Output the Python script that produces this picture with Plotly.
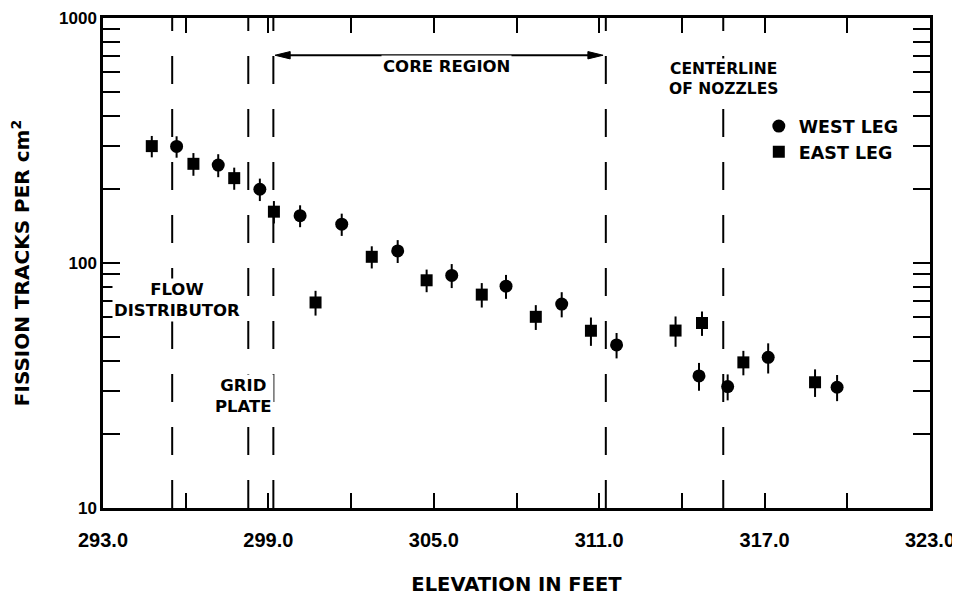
import plotly.graph_objects as go

# ---- data ----
west_x = [295.67, 297.18, 298.69, 300.15, 301.66, 303.69, 305.65, 307.62, 309.64, 311.63, 314.62, 315.66, 317.13, 319.63]
west_y = [299, 251, 200, 156, 144, 112, 89, 80.4, 68, 46.3, 34.6, 31.3, 41.2, 31.1]
west_err = [30, 27, 21, 16, 15, 12, 10, 9, 8, 5.5, 4.5, 3.8, 5.8, 3.8]

east_x = [294.77, 296.28, 297.76, 299.20, 300.71, 302.75, 304.74, 306.74, 308.70, 310.70, 313.77, 314.73, 316.23, 318.83]
east_y = [300, 254, 222, 162, 69, 106, 85, 74.3, 60.3, 52.9, 53, 56.9, 39.3, 32.6]
east_err = [30, 27, 23, 17, 8, 11, 9, 8.5, 7, 7, 7.5, 6.5, 4.5, 4.2]

x_tickvals = [293, 296, 299, 302, 305, 308, 311, 314, 317, 320, 323]
x_ticktext = ["293.0", "", "299.0", "", "305.0", "", "311.0", "", "317.0", "", "323.0"]
y_tickvals = [10, 20, 30, 40, 50, 60, 70, 80, 90, 100, 200, 300, 400, 500, 600, 700, 800, 900, 1000]
y_ticktext = ["10", "", "", "", "", "", "", "", "", "100", "", "", "", "", "", "", "", "", "1000"]

# reference lines (elevation, ft)
flow_distributor_x = 295.51
grid_plate_x = 298.27
core_start_x = 299.18
core_end_x = 311.24
nozzles_x = 315.5

TXT = "DejaVu Sans"
NUM = "Liberation Sans"

fig = go.Figure()
fig.add_trace(go.Scatter(
    x=west_x, y=west_y, mode="markers", name="WEST LEG",
    marker=dict(symbol="circle", size=13, color="black"),
    error_y=dict(type="data", array=west_err, visible=True, thickness=2, width=0, color="black"),
))
fig.add_trace(go.Scatter(
    x=east_x, y=east_y, mode="markers", name="EAST LEG",
    marker=dict(symbol="square", size=12, color="black"),
    error_y=dict(type="data", array=east_err, visible=True, thickness=2, width=0, color="black"),
))

shapes = []
for xv in [flow_distributor_x, grid_plate_x, core_start_x, core_end_x, nozzles_x]:
    shapes.append(dict(type="line", xref="x", yref="paper", x0=xv, x1=xv, y0=0, y1=1,
                       line=dict(color="black", width=2, dash="28px,25px"), layer="below"))

# "CORE REGION" double arrow (paper y for the row, arrowheads as filled triangles)
arrow_y = 0.924
head_len = 0.55   # ft
head_half = 0.0075  # paper
left_tip = core_start_x + 0.06
right_tip = core_end_x - 0.1
shapes.append(dict(type="line", xref="x", yref="paper", x0=left_tip + 0.3, x1=right_tip - 0.3,
                   y0=arrow_y, y1=arrow_y, line=dict(color="black", width=2)))
shapes.append(dict(type="path", xref="x", yref="paper",
                   path=f"M {left_tip},{arrow_y} L {left_tip + head_len},{arrow_y + head_half} "
                        f"L {left_tip + head_len},{arrow_y - head_half} Z",
                   fillcolor="black", line=dict(color="black", width=1)))
shapes.append(dict(type="path", xref="x", yref="paper",
                   path=f"M {right_tip},{arrow_y} L {right_tip - head_len},{arrow_y + head_half} "
                        f"L {right_tip - head_len},{arrow_y - head_half} Z",
                   fillcolor="black", line=dict(color="black", width=1)))

def label(text, x, y, size=16.5):
    return dict(x=x, y=y, xref="x", yref="y", text=text, showarrow=False,
                bgcolor="white", borderpad=1, align="center",
                font=dict(family=TXT, size=size, color="black", weight="bold"))

ann = [
    dict(x=305.47, y=arrow_y, xref="x", yref="paper", text="CORE REGION", showarrow=False,
         bgcolor="white", borderpad=1,
         font=dict(family=TXT, size=16.5, color="black", weight="bold")),
    label("CENTERLINE<br>OF NOZZLES", nozzles_x, 2.752, 15.5),
    label("FLOW<br>DISTRIBUTOR", 295.67, 1.8496),
    label("GRID<br>PLATE", 298.11, 1.4553),
]

# The page body has an 8px default margin, so the figure is sized to fit the
# 960x596 window from that offset.
fig.update_layout(
    width=952, height=588,
    margin=dict(l=95, r=30, t=10, b=88),
    paper_bgcolor="white", plot_bgcolor="white",
    font=dict(family=TXT, color="black", weight="bold"),
    showlegend=True,
    legend=dict(x=0.793, y=0.816, xanchor="left", yanchor="top",
                font=dict(family=TXT, size=17.5, color="black", weight="bold"),
                bgcolor="rgba(0,0,0,0)", itemsizing="trace", tracegroupgap=0),
    annotations=ann,
    shapes=shapes,
)
fig.update_xaxes(
    range=[293, 323], tickvals=x_tickvals, ticktext=x_ticktext,
    ticks="inside", ticklen=15, tickwidth=1.5, tickcolor="black",
    showline=True, linewidth=2.5, linecolor="black", mirror="ticks",
    showgrid=False, zeroline=False, ticklabelstandoff=12, automargin=False,
    ticklabeloverflow="allow",
    tickfont=dict(family=NUM, size=20, color="black", weight="bold"),
    title=dict(text="ELEVATION IN FEET", standoff=30,
               font=dict(family=TXT, size=19.5, color="black", weight="bold")),
)
fig.update_yaxes(
    type="log", range=[1, 3], tickvals=y_tickvals, ticktext=y_ticktext,
    ticks="inside", ticklen=17, tickwidth=1.5, tickcolor="black",
    showline=True, linewidth=2.5, linecolor="black", mirror="ticks",
    showgrid=False, zeroline=False, ticklabelstandoff=0, automargin=False,
    ticklabeloverflow="allow",
    tickfont=dict(family=NUM, size=17, color="black", weight="bold"),
    title=dict(text="FISSION TRACKS PER cm<sup>2</sup>", standoff=28,
               font=dict(family=TXT, size=20, color="black", weight="bold")),
)

fig.write_html("out.html")
